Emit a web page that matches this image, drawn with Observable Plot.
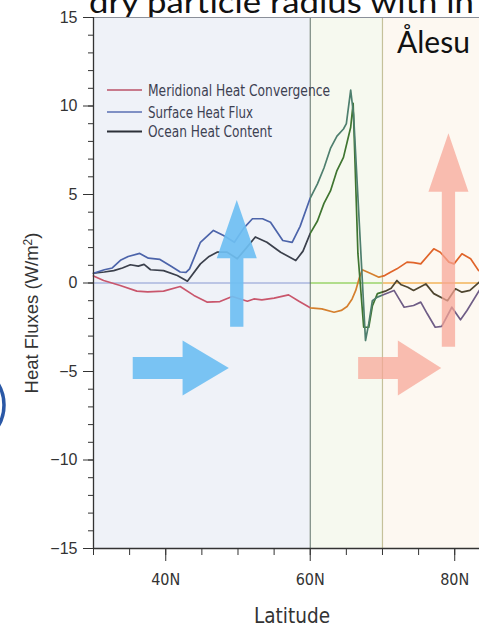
<!DOCTYPE html>
<html><head><meta charset="utf-8">
<script src="https://cdn.jsdelivr.net/npm/d3@7"></script>
<script src="https://cdn.jsdelivr.net/npm/@observablehq/plot@0.6"></script>
<style>
html,body{margin:0;padding:0;background:#fff;overflow:hidden}
#chart{position:relative;width:479px;height:629px}
svg{display:block}
</style></head><body><div id="chart"></div>
<script>
// ---- data ----
const seriesNames = ["Meridional Heat Convergence", "Surface Heat Flux", "Ocean Heat Content"];

const mhcLat = [30, 31.4, 33.7, 36.0, 37.5, 39.7, 42.0, 43.9, 45.7, 47.5, 49.2, 51.3, 52.2, 53.3, 55.0, 57.0, 58.5, 60.0, 61.6, 63.3, 64.3, 65.1, 65.8, 66.3, 66.8, 67.2, 68.3, 69.5, 70.3, 71.1, 72.0, 73.4, 74.3, 75.3, 77.1, 78.0, 79.2, 79.9, 81.0, 82.2, 83.3];
const mhcVal = [0.4, 0.14, -0.14, -0.46, -0.5, -0.46, -0.2, -0.7, -1.08, -1.05, -0.76, -1.03, -0.9, -0.95, -0.85, -0.67, -1.05, -1.4, -1.46, -1.65, -1.55, -1.33, -0.9, -0.42, 0.3, 0.75, 0.55, 0.33, 0.42, 0.61, 0.8, 1.18, 1.15, 1.08, 1.93, 1.74, 1.18, 1.08, 1.65, 1.37, 0.7];

const shfLat = [30, 31.5, 32.6, 33.8, 34.8, 36.4, 37.6, 39.2, 40.8, 42.0, 42.8, 43.3, 44.8, 46.6, 48.0, 49.5, 50.8, 52.0, 53.4, 54.5, 56.2, 57.5, 58.6, 60.0, 61.0, 61.9, 62.8, 63.7, 64.6, 65.0, 65.6, 66.0, 67.65, 68.1, 68.6, 69.3, 70.2, 71.6, 72.3, 73.0, 74.3, 75.3, 76.2, 77.3, 78.2, 79.6, 80.8, 81.7, 83.4];
const shfVal = [0.55, 0.75, 0.85, 1.3, 1.5, 1.67, 1.4, 1.33, 0.93, 0.62, 0.6, 0.8, 2.3, 2.97, 2.68, 2.3, 3.1, 3.63, 3.63, 3.43, 2.4, 2.3, 3.2, 4.8, 5.6, 6.5, 7.6, 8.3, 8.7, 9.0, 10.9, 9.5, -3.25, -2.3, -1.0, -0.8, -0.65, -0.42, -0.9, -1.37, -1.27, -1.08, -1.74, -2.5, -2.45, -1.37, -2.08, -1.55, -0.42];

const ohcLat = [30, 31.5, 32.8, 34.0, 35.1, 36.2, 37.0, 37.9, 39.7, 41.6, 43.0, 44.8, 46.0, 47.1, 48.5, 49.9, 51.2, 52.4, 54.0, 55.9, 58.0, 59.0, 60.0, 61.0, 61.9, 62.8, 63.7, 64.6, 65.6, 65.94, 66.6, 67.4, 68.1, 68.6, 69.3, 70.4, 71.2, 72.0, 72.6, 73.5, 74.3, 76.0, 77.1, 79.0, 80.1, 81.0, 82.1, 83.4];
const ohcVal = [0.55, 0.62, 0.7, 0.85, 1.03, 0.95, 1.05, 0.75, 0.7, 0.42, 0.1, 1.08, 1.5, 1.74, 1.74, 1.37, 2.0, 2.6, 2.3, 1.74, 1.27, 1.8, 2.8, 3.5, 4.5, 5.2, 6.35, 7.1, 8.8, 10.15, 1.67, -2.5, -2.5, -1.3, -0.6, -0.46, -0.3, 0.14, -0.1, -0.24, -0.42, -0.05, -0.6, -1.0, -0.33, -0.52, -0.42, 0.05];

const regionEdges = [30, 60, 70, 83.43];
const yTicks = [-15, -10, -5, 0, 5, 10, 15];
const yMinorTicks = d3.range(-15, 16, 1);
const xTicks = [40, 60, 80];
const xTickLabels = ["40N", "60N", "80N"];
const xMinorTicks = d3.range(30, 84, 5);

// ---- styles ----
const bgFills = ["#eff2f8", "#f6f9ef", "#fdf8f1"];
const seriesGrad = {
  mhc: ["#c9566c", "#d5802e", "#e0642a"],
  shf: ["#4c64aa", "#4e7f6e", "#6f5d86"],
  ohc: ["#3b404c", "#3f7530", "#4f4630"],
  zero: ["#aab6de", "#9ad46a", "#f2b45a"]
};
const legendColors = ["#c87a8c", "#7f90c4", "#2c3038"];

const toRows = (name, lats, vals) => lats.map((lat, i) => ({series: name, lat, value: vals[i]}));
const mhcRows = toRows(seriesNames[0], mhcLat, mhcVal);
const shfRows = toRows(seriesNames[1], shfLat, shfVal);
const ohcRows = toRows(seriesNames[2], ohcLat, ohcVal);
const regions = bgFills.map((f, i) => ({x1: regionEdges[i], x2: regionEdges[i + 1], y1: yTicks[0], y2: yTicks[yTicks.length - 1]}));

const font = "'Liberation Sans', Arial, sans-serif";
const narrow = "'Liberation Sans Narrow', 'DejaVu Sans Condensed', 'Liberation Sans', sans-serif";

const chart = Plot.plot({
  width: 479, height: 629,
  marginLeft: 93, marginTop: 17, marginBottom: 81, marginRight: 0,
  x: {domain: [regionEdges[0], regionEdges[3]]},
  y: {domain: [-15, 15]},
  style: {background: "transparent", fontFamily: font, overflow: "visible"},
  marks: [
    ...regions.map((r, i) => Plot.rect([r], {x1: "x1", x2: "x2", y1: "y1", y2: "y2", fill: bgFills[i]})),
    Plot.ruleY([0], {stroke: "url(#g-zero)", strokeWidth: 1.3}),
    Plot.ruleX([60], {stroke: "#5d6f68", strokeWidth: 1}),
    Plot.ruleX([70], {stroke: "#c5c19a", strokeWidth: 1.2}),
    Plot.line(mhcRows, {x: "lat", y: "value", stroke: "url(#g-mhc)", strokeWidth: 1.7}),
    Plot.line(ohcRows, {x: "lat", y: "value", stroke: "url(#g-ohc)", strokeWidth: 1.7}),
    Plot.line(shfRows, {x: "lat", y: "value", stroke: "url(#g-shf)", strokeWidth: 1.7}),
    Plot.ruleY([15], {stroke: "#8a8f99", strokeWidth: 1}),
    Plot.ruleY([-15], {stroke: "#333", strokeWidth: 1.3}),
    Plot.ruleX([30], {stroke: "#333", strokeWidth: 1.3}),
    Plot.axisY(yMinorTicks, {tickSize: 5, tickFormat: () => "", label: null, stroke: "#333"}),
    Plot.axisY(yTicks, {tickSize: 10, tickPadding: 6, fontSize: 16, label: null, stroke: "#333", fill: "#333", fontFamily: font}),
    Plot.axisX(xMinorTicks, {tickSize: 7, tickFormat: () => "", label: null, stroke: "#333"}),
    Plot.axisX(xTicks, {tickSize: 13, tickPadding: 12, fontSize: 16, label: null, stroke: "#333", fill: "#333", fontFamily: narrow,
      tickFormat: d => xTickLabels[xTicks.indexOf(d)]})
  ]
});

document.getElementById("chart").appendChild(chart);
const svg = d3.select(chart);
const xs = chart.scale("x").apply, ys = chart.scale("y").apply;

// gradients
const defs = svg.insert("defs", ":first-child");
function addGrad(id, colors) {
  const x0 = xs(regionEdges[0]), x1 = xs(regionEdges[3]), tot = x1 - x0;
  const g = defs.append("linearGradient").attr("id", id).attr("gradientUnits", "userSpaceOnUse")
    .attr("x1", x0).attr("x2", x1).attr("y1", 0).attr("y2", 0);
  colors.forEach((c, i) => {
    g.append("stop").attr("offset", (xs(regionEdges[i]) - x0) / tot).attr("stop-color", c);
    g.append("stop").attr("offset", (xs(regionEdges[i + 1]) - x0) / tot).attr("stop-color", c);
  });
}
addGrad("g-mhc", seriesGrad.mhc);
addGrad("g-shf", seriesGrad.shf);
addGrad("g-ohc", seriesGrad.ohc);
addGrad("g-zero", seriesGrad.zero);

// slide title behind the plot
svg.insert("text", "defs + *").attr("x", 89).attr("y", 12.5).attr("text-anchor", "start")
  .attr("font-family", "Lato, 'Open Sans', sans-serif")
  .attr("font-size", 30).attr("fill", "#111").attr("textLength", 385).attr("lengthAdjust", "spacingAndGlyphs")
  .text("dry particle radius with in");

// arrows (in data units)
const upArrows = [
  {x: 49.9, y0: -2.5, yHead: 1.37, y1: 4.66, shaftHalf: 0.92, headHalf: 2.77, fill: "#6fbff2", op: 0.92},
  {x: 79.2, y0: -3.63, yHead: 5.13, y1: 8.43, shaftHalf: 0.92, headHalf: 2.77, fill: "#f6a596", op: 0.72}
];
const rightArrows = [
  {y: -4.83, x0: 35.5, xHead: 42.4, x1: 48.8, shaftHalf: 0.62, headHalf: 1.55, fill: "#6fbff2", op: 0.92},
  {y: -4.83, x0: 66.7, xHead: 72.2, x1: 78.2, shaftHalf: 0.62, headHalf: 1.55, fill: "#f6a596", op: 0.72}
];
const ag = svg.append("g");
const pxPerDeg = xs(1) - xs(0), pxPerUnit = ys(0) - ys(1);
upArrows.forEach(a => {
  const cx = xs(a.x), sw = a.shaftHalf * pxPerDeg, hw = a.headHalf * pxPerDeg;
  const pts = [[cx - sw, ys(a.y0)], [cx - sw, ys(a.yHead)], [cx - hw, ys(a.yHead)], [cx, ys(a.y1)], [cx + hw, ys(a.yHead)], [cx + sw, ys(a.yHead)], [cx + sw, ys(a.y0)]];
  ag.append("polygon").attr("points", pts.map(p => p.join(",")).join(" ")).attr("fill", a.fill).attr("opacity", a.op);
});
rightArrows.forEach(a => {
  const cy = ys(a.y), sh = a.shaftHalf * pxPerUnit, hh = a.headHalf * pxPerUnit;
  const pts = [[xs(a.x0), cy - sh], [xs(a.xHead), cy - sh], [xs(a.xHead), cy - hh], [xs(a.x1), cy], [xs(a.xHead), cy + hh], [xs(a.xHead), cy + sh], [xs(a.x0), cy + sh]];
  ag.append("polygon").attr("points", pts.map(p => p.join(",")).join(" ")).attr("fill", a.fill).attr("opacity", a.op);
});

// legend
const lg = svg.append("g").attr("text-anchor", "start");
const legendRows = [90, 112, 131.5];
const legendWidths = [182, 105, 124];
seriesNames.forEach((name, i) => {
  lg.append("line").attr("x1", 107).attr("x2", 142).attr("y1", legendRows[i]).attr("y2", legendRows[i])
    .attr("stroke", legendColors[i]).attr("stroke-width", 2);
  lg.append("text").attr("x", 148).attr("y", legendRows[i]).attr("dy", "0.36em").attr("text-anchor", "start")
    .attr("font-family", narrow).attr("font-size", 15.5).attr("fill", "#3d4152")
    .attr("textLength", legendWidths[i]).attr("lengthAdjust", "spacingAndGlyphs").text(name);
});

// axis titles
svg.append("text").attr("x", 292).attr("y", 623).attr("text-anchor", "middle")
  .attr("font-family", narrow).attr("font-size", 22).attr("fill", "#333")
  .attr("textLength", 76).attr("lengthAdjust", "spacingAndGlyphs").text("Latitude");
svg.append("text").attr("transform", "translate(38,313) rotate(-90)").attr("text-anchor", "middle")
  .attr("font-family", font).attr("font-size", 18.5).attr("fill", "#333")
  .html("Heat Fluxes (W/m<tspan dy='-6' font-size='12'>2</tspan><tspan dy='6'>)</tspan>");

// overlay slide text and marker
svg.append("text").attr("x", 397).attr("y", 53).attr("text-anchor", "start")
  .attr("font-family", "Lato, 'Open Sans', sans-serif")
  .attr("font-size", 30).attr("fill", "#111").text("Ålesu");
svg.append("circle").attr("cx", -37).attr("cy", 405).attr("r", 41).attr("fill", "none")
  .attr("stroke", "#2a58a6").attr("stroke-width", 3.5);
</script></body></html>
